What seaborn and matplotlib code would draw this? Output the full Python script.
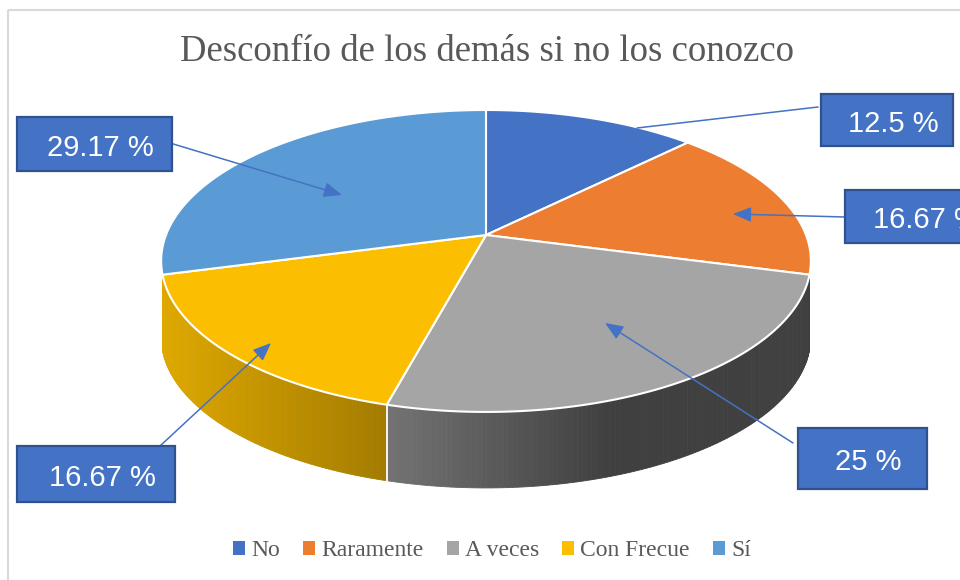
import numpy as np
import matplotlib
matplotlib.use("Agg")
import matplotlib.pyplot as plt
import seaborn as sns
from matplotlib.patches import Polygon, Rectangle, FancyArrowPatch, Patch
from matplotlib.colors import to_rgb

# ---------------- data ----------------
categories = ["No", "Raramente", "A veces", "Con Frecue", "Sí"]
values = [12.5, 16.67, 25, 16.67, 29.17]
labels = [f"{v:g} %" for v in values]
title = "Desconfío de los demás si no los conozco"

# ---------------- styles ----------------
top_colors = ["#4472C4", "#ED7D31", "#A5A5A5", "#FBBE00", "#5B9BD5"]
side_light = ["#3B63AA", "#C9692A", "#737373", "#DEA800", "#4F87BB"]
side_dark = ["#2A4A80", "#9A5020", "#404040", "#A47C00", "#3D6D99"]

# label boxes: (x0, y0, x1, y1) and leader tip / start
box_geom = [(821, 94, 953, 146), (845, 190, 995, 243), (798, 428, 927, 489),
            (17, 446, 175, 502), (17, 117, 172, 171)]
leader_start = [(818, 107), (845, 217), (793, 443), (160, 446), (170, 143)]
leader_tip = [(637, 128), (733, 214), (605, 323), (271, 343), (342, 195)]
leader_head = [False, True, True, True, True]

sns.set_theme(style="white")
plt.rcParams["font.family"] = ["Liberation Serif", "DejaVu Serif"]

fig = plt.figure(figsize=(9.6, 5.8), dpi=100)
ax = fig.add_axes([0, 0, 1, 1])
ax.set_xlim(0, 960)
ax.set_ylim(580, 0)
ax.axis("off")

CX, CY, A, B, P, DEPTH = 486, 235, 320, 146.5, 0.172, 76


def top_pt(theta):
    u = np.sin(theta)
    v = np.cos(theta)
    d = 1 + P * v
    return CX + A * u / d, CY - B * v / d


fracs = np.array(values) / np.sum(values)
bounds = np.concatenate([[0], np.cumsum(fracs)]) * 2 * np.pi
vis_lo = np.arccos(-P)
vis_hi = 2 * np.pi - vis_lo
min_span = np.deg2rad(8)

# ---- side walls ----
for i in range(len(values)):
    a0, a1 = max(bounds[i], vis_lo), min(bounds[i + 1], vis_hi)
    if a1 - a0 < min_span:
        continue
    th = np.linspace(a0, a1, 120)
    xs, ys = top_pt(th)
    xmin, xmax = xs.min(), xs.max()
    span = max(min(xmax - xmin, 220), 1)
    cl, cd = np.array(to_rgb(side_light[i])), np.array(to_rgb(side_dark[i]))
    for k in range(len(th) - 1):
        xm = 0.5 * (xs[k] + xs[k + 1])
        t = np.clip((xm - xmin) / span, 0, 1)
        c = cl * (1 - t) + cd * t
        quad = [(xs[k], ys[k]), (xs[k + 1], ys[k + 1]),
                (xs[k + 1], ys[k + 1] + DEPTH), (xs[k], ys[k] + DEPTH)]
        ax.add_patch(Polygon(quad, closed=True, facecolor=c, edgecolor=c,
                             lw=0.6, zorder=1))
# white vertical separators on the side
for b in bounds[1:-1]:
    if vis_lo + min_span < b < vis_hi - min_span:
        x, y = top_pt(b)
        ax.plot([x, x], [y, y + DEPTH], color="white", lw=1.3, zorder=2)

# ---- top face ----
for i in range(len(values)):
    th = np.linspace(bounds[i], bounds[i + 1], 200)
    xs, ys = top_pt(th)
    pts = [(CX, CY)] + list(zip(xs, ys))
    ax.add_patch(Polygon(pts, closed=True, facecolor=top_colors[i],
                         edgecolor="white", lw=1.5, joinstyle="round", zorder=3))

# ---- leader lines & label boxes ----
for i in range(len(values)):
    style = "-|>,head_length=11,head_width=4.5" if leader_head[i] else "-"
    ax.add_patch(FancyArrowPatch(posA=leader_start[i], posB=leader_tip[i],
                                 arrowstyle=style, mutation_scale=1,
                                 color="#4472C4", lw=1.1, shrinkA=0, shrinkB=0,
                                 zorder=5))
    x0, y0, x1, y1 = box_geom[i]
    ax.add_patch(Rectangle((x0, y0), x1 - x0, y1 - y0, facecolor="#4472C4",
                           edgecolor="#2F528F", lw=1.6, zorder=6))
    ax.text((x0 + x1) / 2 + 6, (y0 + y1) / 2 + 12, labels[i], ha="center",
            va="baseline", color="white", fontsize=21,
            family=["Liberation Sans", "DejaVu Sans"], zorder=7)

# ---- title ----
ax.text(486.5, 61, title, ha="center", va="baseline", fontsize=26.5,
        color="#595959", zorder=7)

# ---- legend ----
handles = [Patch(facecolor=c, edgecolor="none", label=cat)
           for c, cat in zip(top_colors, categories)]
fig.legend(handles=handles, loc="center", bbox_to_anchor=(492 / 960, 1 - 551 / 580),
           ncol=5, frameon=False, fontsize=17, handlelength=0.5,
           handleheight=0.5, handletextpad=0.25, columnspacing=1.0,
           labelcolor="#595959")

# ---- chart border ----
ax.add_patch(Rectangle((7.5, 9.5), 970, 600, fill=False, edgecolor="#D9D9D9",
                       lw=1.5, zorder=0))

fig.savefig("out.png", dpi=100)
